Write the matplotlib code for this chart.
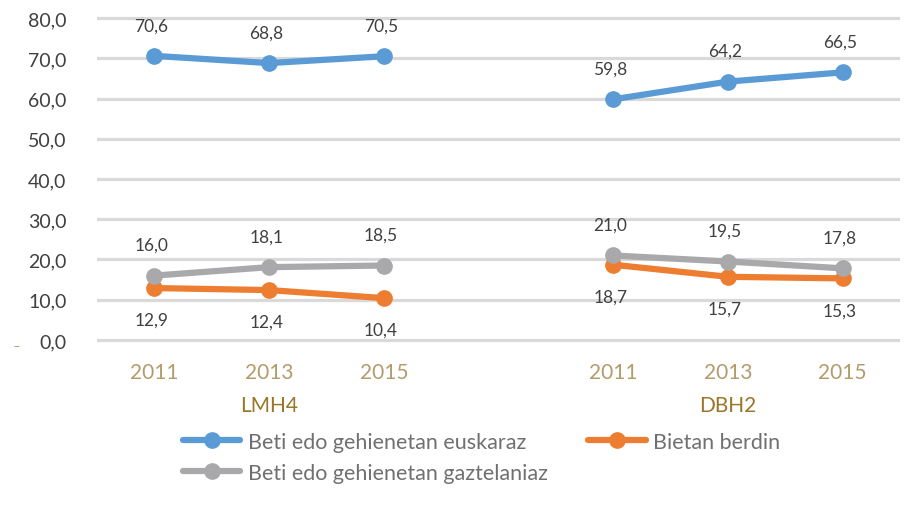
import numpy as np
import matplotlib.pyplot as plt

# datuak
years = ['2011', '2013', '2015']
groups = ['LMH4', 'DBH2']
euskaraz = {'LMH4': [70.6, 68.8, 70.5], 'DBH2': [59.8, 64.2, 66.5]}
bietan = {'LMH4': [12.9, 12.4, 10.4], 'DBH2': [18.7, 15.7, 15.3]}
gaztelaniaz = {'LMH4': [16.0, 18.1, 18.5], 'DBH2': [21.0, 19.5, 17.8]}

series = [
    ('Beti edo gehienetan euskaraz', euskaraz, '#5b9bd5', 'up'),
    ('Bietan berdin', bietan, '#ed7d31', 'down'),
    ('Beti edo gehienetan gaztelaniaz', gaztelaniaz, '#a9a9ab', 'up'),
]

plt.rcParams['font.family'] = ['Lato', 'DejaVu Sans']

fig = plt.figure(figsize=(9.13, 5.06), dpi=100)
ax = fig.add_axes([97/913, 161/506, 803/913, 330/506])

# posizioak: 3 urte talde bakoitzeko, tarte bat erdian
xpos = {'LMH4': np.arange(3), 'DBH2': np.arange(3) + 4}

handles = {}
for name, vals, col, side in series:
    for g in groups:
        ln, = ax.plot(xpos[g], vals[g], color=col, lw=4.5, marker='o',
                      ms=11, solid_capstyle='round', zorder=3)
        for x, v in zip(xpos[g], vals[g]):
            dy = 22 if side == 'up' else -23
            ax.annotate(('%.1f' % v).replace('.', ','), (x, v),
                        xytext=(-2, dy), textcoords='offset points',
                        ha='center', va='center', fontsize=12.5,
                        color='#404040')
    handles[name] = ln

ax.set_xlim(-0.5, 6.5)
ax.set_ylim(-1, 81)
ax.set_yticks(np.arange(0, 81, 10))
ax.set_yticklabels([('%.1f' % v).replace('.', ',') for v in np.arange(0, 81, 10)])
ax.tick_params(axis='y', length=0, pad=22, labelsize=14, labelcolor='#404040')
ax.set_xticks(list(xpos['LMH4']) + list(xpos['DBH2']))
ax.set_xticklabels(years * 2)
ax.tick_params(axis='x', length=0, pad=13, labelsize=15, labelcolor='#b39c6c')
ax.grid(axis='y', color='#d9d9d9', lw=2.3)
ax.set_axisbelow(True)
for s in ax.spines.values():
    s.set_visible(False)

for g in groups:
    ax.text(xpos[g][1], -0.185, g, transform=ax.get_xaxis_transform(),
            ha='center', va='center', fontsize=15, color='#9a7628')

fig.text(16/913, 1 - 347/506, '_', color='#b39c6c', fontsize=9,
         ha='center', va='bottom')

order = ['Beti edo gehienetan euskaraz', 'Beti edo gehienetan gaztelaniaz',
         'Bietan berdin']
fig.legend([handles[n] for n in order], order, ncol=2, frameon=False,
           loc='upper left', bbox_to_anchor=(183/913, 1 - 433/506),
           fontsize=15.5, labelcolor='#707070', handlelength=2.65,
           handletextpad=0.35, columnspacing=1.9, labelspacing=0.5,
           borderaxespad=0, borderpad=0)

fig.savefig('out.png', dpi=100)
